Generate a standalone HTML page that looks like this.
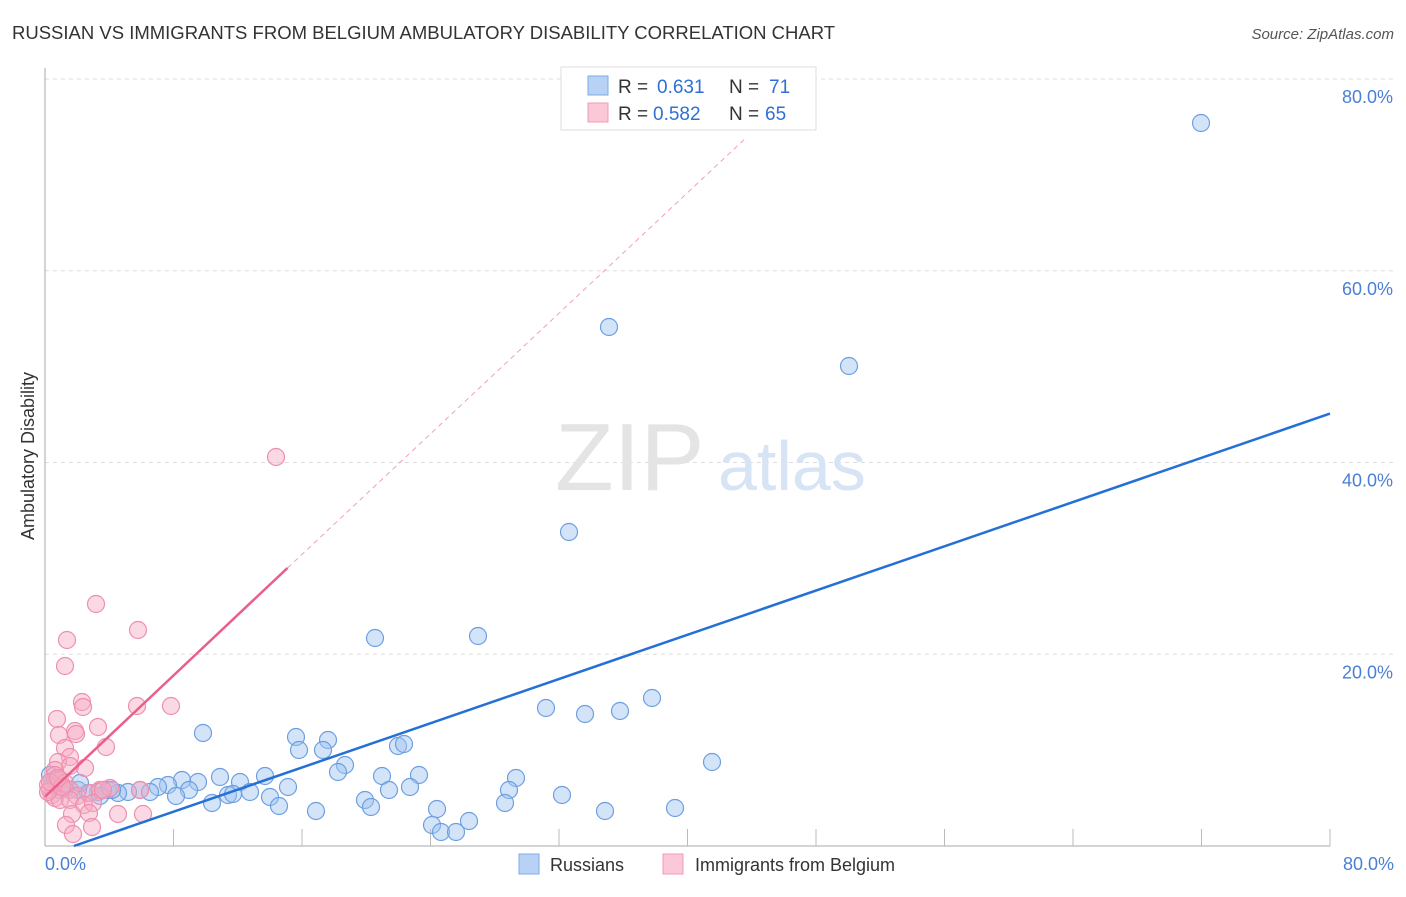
<!DOCTYPE html>
<html><head><meta charset="utf-8"><style>
body{margin:0;background:#fff;font-family:"Liberation Sans",sans-serif}
svg text{font-family:"Liberation Sans",sans-serif}
</style></head><body>
<svg id="chart" width="1406" height="892" viewBox="0 0 1406 892" xmlns="http://www.w3.org/2000/svg">
<text x="12" y="39" font-size="18.5" fill="#333">RUSSIAN VS IMMIGRANTS FROM BELGIUM AMBULATORY DISABILITY CORRELATION CHART</text>
<text x="1394" y="39" font-size="15" fill="#555" text-anchor="end" font-style="italic">Source: ZipAtlas.com</text>
<g id="grid"></g>
<text x="555" y="490" font-size="96" fill="#e4e4e4" font-family="Liberation Serif">ZIP</text>
<text x="718" y="490" font-size="70" fill="#d6e4f6">atlas</text>
<g id="marks"></g>
<text transform="translate(34,456) rotate(-90)" font-size="18" fill="#333" text-anchor="middle">Ambulatory Disability</text>
<g>
<rect x="561" y="67" width="255" height="63" fill="#fff" stroke="#ddd"/>
<rect x="588" y="76" width="20" height="19" fill="#b8d2f5" stroke="#7ea9e6"/>
<rect x="588" y="103" width="20" height="19" fill="#fbc8d8" stroke="#f19ab6"/>
<text x="618" y="93" font-size="19" fill="#333">R =</text>
<text x="657" y="93" font-size="19" fill="#2f6fd6">0.631</text>
<text x="729" y="93" font-size="19" fill="#333">N =</text>
<text x="769" y="93" font-size="19" fill="#2f6fd6">71</text>
<text x="618" y="120" font-size="19" fill="#333">R =</text>
<text x="653" y="120" font-size="19" fill="#2f6fd6">0.582</text>
<text x="729" y="120" font-size="19" fill="#333">N =</text>
<text x="765" y="120" font-size="19" fill="#2f6fd6">65</text>
</g>
<g>
<rect x="519" y="854" width="20" height="20" fill="#b8d2f5" stroke="#7ea9e6"/>
<text x="550" y="871" font-size="18" fill="#333">Russians</text>
<rect x="663" y="854" width="20" height="20" fill="#fbc8d8" stroke="#f19ab6"/>
<text x="695" y="871" font-size="18" fill="#333">Immigrants from Belgium</text>
</g>
</svg>
<script>
const yTicks=[20,40,60,80];
const xTickLabels=["0.0%","80.0%"];
const bluePx=[[1201,123],[609,327],[849,366],[569,532],[375,638],[478,636],[203,733],[296,737],[328,740],[299,750],[323,750],[398,746],[404,744],[345,765],[338,772],[382,776],[419,775],[516,778],[509,790],[410,787],[389,790],[288,787],[265,776],[240,782],[220,777],[198,782],[182,780],[168,785],[158,787],[189,790],[176,796],[212,803],[228,795],[233,794],[250,792],[270,797],[279,806],[316,811],[365,800],[371,807],[437,809],[432,825],[441,832],[456,832],[469,821],[505,803],[562,795],[605,811],[675,808],[546,708],[585,714],[620,711],[652,698],[712,762],[140,790],[128,792],[118,793],[108,790],[98,792],[88,793],[78,790],[70,790],[60,790],[52,785],[50,775],[55,780],[65,788],[80,783],[112,790],[150,792],[100,796]];
const pinkPx=[[276,457],[96,604],[67,640],[138,630],[65,666],[82,702],[83,707],[171,706],[137,706],[57,719],[98,727],[75,731],[76,734],[59,735],[106,747],[65,748],[70,757],[85,768],[58,762],[70,766],[55,770],[55,775],[60,780],[65,783],[50,790],[52,795],[55,798],[48,785],[70,790],[77,796],[90,793],[100,790],[110,788],[103,790],[140,790],[60,800],[70,800],[84,805],[93,803],[72,814],[89,813],[118,814],[143,814],[66,825],[92,827],[73,834],[48,792],[50,782],[62,787],[58,778]];
const russiansX=bluePx.map(p=>(p[0]-45)/16.0625), russiansY=bluePx.map(p=>(846-p[1])/9.5875);
const belgiumX=pinkPx.map(p=>(p[0]-45)/16.0625), belgiumY=pinkPx.map(p=>(846-p[1])/9.5875);
const blueTrend=[1.8,0,80,45.1];
const pinkTrend=[0,5.15,15.1,29.0,43.6,73.8];
const X=v=>45+v*16.0625, Y=v=>846-v*9.5875;
const NS="http://www.w3.org/2000/svg";
const grid=document.getElementById('grid'), marks=document.getElementById('marks');
function mk(tag,attrs,parent){const e=document.createElementNS(NS,tag);for(const k in attrs)e.setAttribute(k,attrs[k]);parent.appendChild(e);return e;}
yTicks.forEach(t=>{
 const l=mk('line',{x1:45,x2:1394,y1:Y(t),y2:Y(t),stroke:'#ddd','stroke-dasharray':'4,4'},grid);
 
 
 const tx=mk('text',{x:1393,y:Y(t)+24,'font-size':18,fill:'#4a7fd6','text-anchor':'end'},grid);
 tx.textContent=t.toFixed(1)+'%';
 
 
});
const ax=mk('line',{x1:45,x2:45,y1:68,y2:846,stroke:'#aaa'},grid);


const bx=mk('line',{x1:45,x2:1330,y1:846,y2:846,stroke:'#aaa'},grid);


for(let i=1;i<=10;i++){
 const t=mk('line',{x1:X(i*8),x2:X(i*8),y1:829,y2:846,stroke:'#bbb'},grid);
 
 
}
[[X(0),'start'],[X(80)+64,'end']].forEach((p,i)=>{
 const tx=mk('text',{x:p[0],y:870,'font-size':18,fill:'#4a7fd6','text-anchor':p[1]},grid);
 tx.textContent=xTickLabels[i];
 
 
});
russiansX.forEach((x,i)=>{
 const c=mk('circle',{cx:X(x),cy:Y(russiansY[i]),r:8.5,fill:'rgba(160,195,240,0.45)',stroke:'#6c9fe2','stroke-width':1.2},marks);
 
 
});
belgiumX.forEach((x,i)=>{
 const c=mk('circle',{cx:X(x),cy:Y(belgiumY[i]),r:8.5,fill:'rgba(246,170,196,0.45)',stroke:'#ef8fae','stroke-width':1.2},marks);
 
 
});
const bl=mk('line',{x1:X(blueTrend[0]),y1:Y(blueTrend[1]),x2:X(blueTrend[2]),y2:Y(blueTrend[3]),stroke:'#2470d6','stroke-width':2.5},marks);


const pl=mk('line',{x1:X(pinkTrend[0]),y1:Y(pinkTrend[1]),x2:X(pinkTrend[2]),y2:Y(pinkTrend[3]),stroke:'#ea5f8a','stroke-width':2.5},marks);


const pd=mk('line',{x1:X(pinkTrend[2]),y1:Y(pinkTrend[3]),x2:X(pinkTrend[4]),y2:Y(pinkTrend[5]),stroke:'#f0a0b8','stroke-width':1,'stroke-dasharray':'5,4'},marks);


</script>
</body></html>
